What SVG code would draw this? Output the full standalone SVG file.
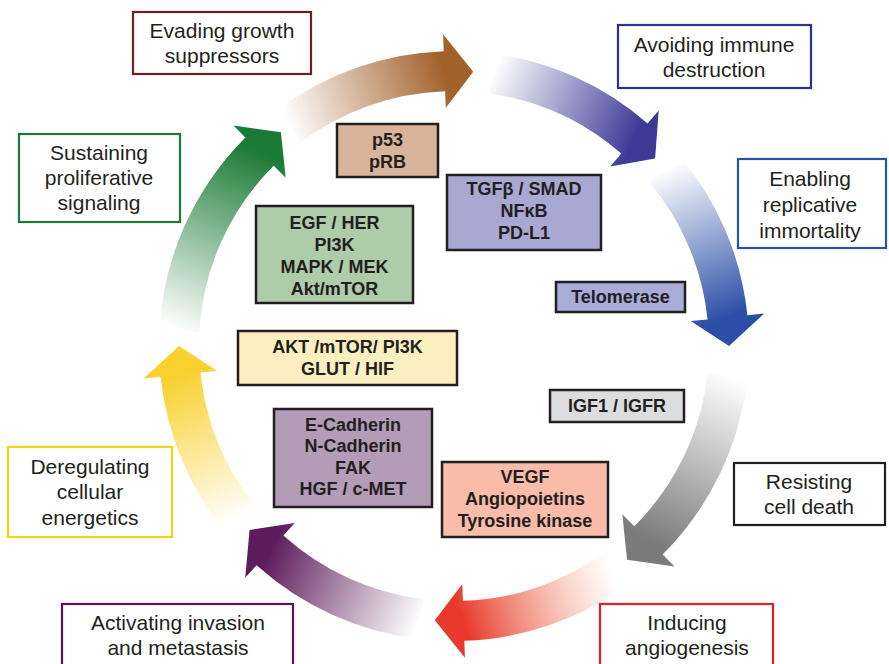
<svg xmlns="http://www.w3.org/2000/svg" width="889" height="664" viewBox="0 0 889 664">
<style>
.ob{fill:#fff;stroke-width:2.2}
.ot{font-family:"Liberation Sans",Arial,sans-serif;font-size:21px;fill:#231F20;text-anchor:middle}
.ib{stroke:#231F20;stroke-width:2.5}
.it{font-family:"Liberation Sans",Arial,sans-serif;font-size:18px;font-weight:bold;fill:#231F20;text-anchor:middle}
</style>
<defs>
<linearGradient id="gBrown" gradientUnits="userSpaceOnUse" x1="288.5" y1="126.4" x2="444.4" y2="71.2"><stop offset="0" stop-color="#A2612B" stop-opacity="0"/><stop offset="1" stop-color="#A2612B"/></linearGradient>
<linearGradient id="gBlue1" gradientUnits="userSpaceOnUse" x1="492.3" y1="73.7" x2="634.4" y2="138.5"><stop offset="0" stop-color="#3D3B96" stop-opacity="0"/><stop offset="1" stop-color="#3D3B96"/></linearGradient>
<linearGradient id="gBlue2" gradientUnits="userSpaceOnUse" x1="664.7" y1="169.2" x2="727.5" y2="317.3"><stop offset="0" stop-color="#2C4EA6" stop-opacity="0"/><stop offset="1" stop-color="#2C4EA6"/></linearGradient>
<linearGradient id="gGray" gradientUnits="userSpaceOnUse" x1="727.5" y1="374.7" x2="648.5" y2="540.5"><stop offset="0" stop-color="#7B7B7B" stop-opacity="0"/><stop offset="1" stop-color="#7B7B7B"/></linearGradient>
<linearGradient id="gRed" gradientUnits="userSpaceOnUse" x1="611.7" y1="571.3" x2="463.6" y2="620.8"><stop offset="0" stop-color="#F08A60" stop-opacity="0"/><stop offset="1" stop-color="#E8392C"/></linearGradient>
<linearGradient id="gPurple" gradientUnits="userSpaceOnUse" x1="420.5" y1="618.9" x2="270.0" y2="550.4"><stop offset="0" stop-color="#5E1C5C" stop-opacity="0"/><stop offset="1" stop-color="#5E1C5C"/></linearGradient>
<linearGradient id="gYellow" gradientUnits="userSpaceOnUse" x1="240.3" y1="519.1" x2="180.5" y2="374.7"><stop offset="0" stop-color="#F8D12F" stop-opacity="0"/><stop offset="1" stop-color="#F8D12F"/></linearGradient>
<linearGradient id="gGreen" gradientUnits="userSpaceOnUse" x1="179.4" y1="331.6" x2="259.5" y2="151.5"><stop offset="0" stop-color="#1B7A35" stop-opacity="0"/><stop offset="1" stop-color="#1B7A35"/></linearGradient>
</defs>
<rect width="889" height="664" fill="#fff"/>
<g id="connectors">
<path fill="url(#gBrown)" d="M276.5,110.4 A295,295 0 0 1 443.7,51.2 L443.1,34.2 L473.2,71.7 L445.7,108.1 L445.1,91.2 A255,255 0 0 0 300.5,142.4 Z"/>
<path fill="url(#gBlue1)" d="M495.1,53.9 A295,295 0 0 1 647.5,123.4 L658.7,110.5 L655.1,158.4 L610.2,166.4 L621.3,153.6 A255,255 0 0 0 489.5,93.5 Z"/>
<path fill="url(#gBlue2)" d="M680.0,156.4 A295,295 0 0 1 747.4,315.2 L764.3,313.4 L729,346 L690.7,321.1 L707.6,319.4 A255,255 0 0 0 649.3,182.1 Z"/>
<path fill="url(#gGray)" d="M747.4,376.8 A295,295 0 0 1 662.6,554.6 L674.6,566.6 L627.1,559.7 L622.3,514.3 L634.3,526.3 A255,255 0 0 0 707.6,372.6 Z"/>
<path fill="url(#gRed)" d="M623.2,587.7 A295,295 0 0 1 464.3,640.8 L464.9,657.8 L434.8,620.3 L462.3,583.9 L462.9,600.8 A255,255 0 0 0 600.3,554.9 Z"/>
<path fill="url(#gPurple)" d="M418.0,638.8 A295,295 0 0 1 256.6,565.2 L245.2,577.8 L249.6,530.0 L294.8,522.9 L283.4,535.5 A255,255 0 0 0 422.9,599.1 Z"/>
<path fill="url(#gYellow)" d="M224.8,531.6 A295,295 0 0 1 160.6,376.8 L143.7,378.6 L179,346 L217.3,370.9 L200.4,372.6 A255,255 0 0 0 255.8,506.5 Z"/>
<path fill="url(#gGreen)" d="M159.4,330.6 A295,295 0 0 1 245.4,137.4 L233.4,125.4 L280.9,132.3 L285.7,177.7 L273.7,165.7 A255,255 0 0 0 199.3,332.7 Z"/>
</g>
<g id="evading">
<rect class="ob" x="133" y="12" width="178" height="62" stroke="#6E1F1F"/>
<text class="ot" x="222" y="38">Evading growth</text>
<text class="ot" x="222" y="63">suppressors</text>
</g>
<g id="avoiding">
<rect class="ob" x="618" y="25" width="193" height="63" stroke="#2E3192"/>
<text class="ot" x="714" y="52">Avoiding immune</text>
<text class="ot" x="714" y="77">destruction</text>
</g>
<g id="enabling">
<rect class="ob" x="738" y="159" width="148" height="89" stroke="#2356A8"/>
<text class="ot" x="810" y="186">Enabling</text>
<text class="ot" x="810" y="212">replicative</text>
<text class="ot" x="810" y="238">immortality</text>
</g>
<g id="resisting">
<rect class="ob" x="734" y="463" width="151" height="62" stroke="#231F20"/>
<text class="ot" x="809" y="489">Resisting</text>
<text class="ot" x="809" y="514">cell death</text>
</g>
<g id="inducing">
<rect class="ob" x="600" y="604" width="173" height="72" stroke="#E31E24"/>
<text class="ot" x="687" y="630">Inducing</text>
<text class="ot" x="687" y="655">angiogenesis</text>
</g>
<g id="activating">
<rect class="ob" x="62" y="604" width="231" height="72" stroke="#5C1459"/>
<text class="ot" x="178" y="630">Activating invasion</text>
<text class="ot" x="178" y="655">and metastasis</text>
</g>
<g id="deregulating">
<rect class="ob" x="8" y="447" width="164" height="90" stroke="#F7D117"/>
<text class="ot" x="90" y="474">Deregulating</text>
<text class="ot" x="90" y="499">cellular</text>
<text class="ot" x="90" y="525">energetics</text>
</g>
<g id="sustaining">
<rect class="ob" x="19" y="134" width="161" height="88" stroke="#1B7A35"/>
<text class="ot" x="99" y="160">Sustaining</text>
<text class="ot" x="99" y="185">proliferative</text>
<text class="ot" x="99" y="210">signaling</text>
</g>
<g id="p53">
<rect class="ib" x="337" y="124" width="101" height="53" fill="#D9B49A"/>
<text class="it" x="387.5" y="146">p53</text>
<text class="it" x="387.5" y="168">pRB</text>
</g>
<g id="tgfb">
<rect class="ib" x="447" y="175" width="154" height="75" fill="#A9A8D2"/>
<text class="it" x="524" y="195">TGFβ / SMAD</text>
<text class="it" x="524" y="217">NFκB</text>
<text class="it" x="524" y="239">PD-L1</text>
</g>
<g id="egf">
<rect class="ib" x="256" y="206" width="157" height="97" fill="#AECBAA"/>
<text class="it" x="334.5" y="229">EGF / HER</text>
<text class="it" x="334.5" y="251">PI3K</text>
<text class="it" x="334.5" y="273">MAPK / MEK</text>
<text class="it" x="334.5" y="295">Akt/mTOR</text>
</g>
<g id="telomerase">
<rect class="ib" x="556" y="282" width="129" height="30" fill="#A9ACD8"/>
<text class="it" x="620.5" y="303">Telomerase</text>
</g>
<g id="akt">
<rect class="ib" x="238" y="331" width="219" height="54" fill="#FBEFC0"/>
<text class="it" x="347.5" y="353">AKT /mTOR/ PI3K</text>
<text class="it" x="347.5" y="375">GLUT / HIF</text>
</g>
<g id="igf">
<rect class="ib" x="550" y="390" width="134" height="32" fill="#DCDDDF"/>
<text class="it" x="617" y="412">IGF1 / IGFR</text>
</g>
<g id="cadherin">
<rect class="ib" x="274" y="409" width="158" height="98" fill="#B49CB9"/>
<text class="it" x="353" y="431">E-Cadherin</text>
<text class="it" x="353" y="452">N-Cadherin</text>
<text class="it" x="353" y="474">FAK</text>
<text class="it" x="353" y="495">HGF / c-MET</text>
</g>
<g id="vegf">
<rect class="ib" x="442" y="462" width="166" height="75" fill="#F8BCA8"/>
<text class="it" x="525" y="483">VEGF</text>
<text class="it" x="525" y="505">Angiopoietins</text>
<text class="it" x="525" y="527">Tyrosine kinase</text>
</g>
</svg>
